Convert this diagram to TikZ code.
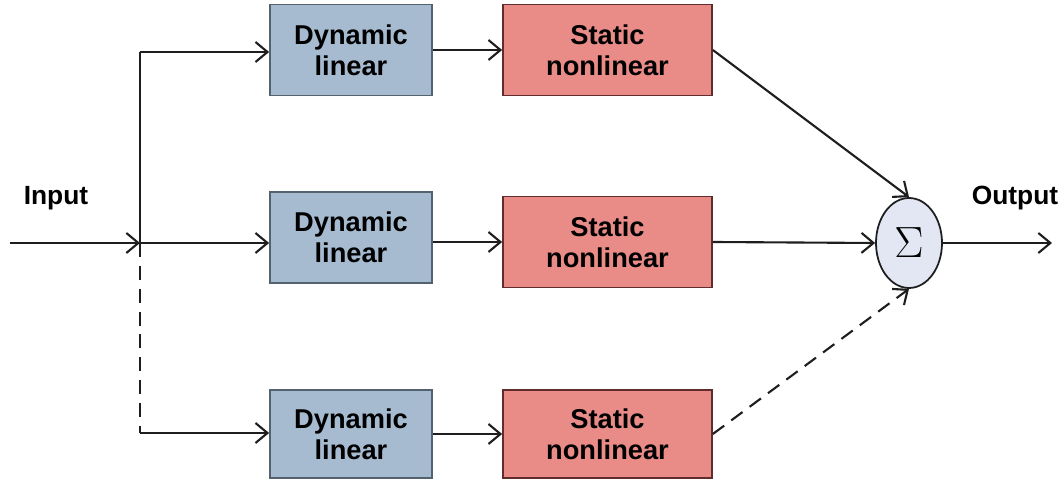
\documentclass[tikz,border=0pt]{standalone}
\usepackage{fontspec}
\setmainfont{Liberation Sans}
\usetikzlibrary{arrows.meta,positioning,shapes.geometric,calc}
\definecolor{dynblue}{RGB}{166,187,208}
\definecolor{dynedge}{RGB}{84,98,112}
\definecolor{statred}{RGB}{233,140,136}
\definecolor{statedge}{RGB}{96,44,44}
\definecolor{sumfill}{RGB}{226,231,243}
\definecolor{linegray}{RGB}{30,30,30}

\begin{document}
\begin{tikzpicture}[
    >={Straight Barb[length=2.4mm,width=4mm]},
    line width=1.2pt,
    dynbox/.style={draw=dynedge, fill=dynblue, line width=1pt, minimum width=3.24cm, minimum height=1.82cm, align=center, font=\fontsize{15.5}{17.5}\selectfont\bfseries},
    statbox/.style={draw=statedge, fill=statred, line width=1pt, minimum width=4.18cm, minimum height=1.82cm, align=center, font=\fontsize{15.5}{17.5}\selectfont\bfseries},
    sumnode/.style={draw=linegray, fill=sumfill, ellipse, line width=1pt, minimum width=1.32cm, minimum height=1.8cm, inner sep=0pt, font=\fontsize{26}{30}\selectfont},
    iolabel/.style={font=\fontsize{15}{18}\selectfont\bfseries}
  ]
  \useasboundingbox (0,0) rectangle (21.24,9.62);

  % Three branches: dynamic linear -> static nonlinear
  \node[dynbox] (dyn1) at (7.02,8.62) {Dynamic\\linear};
  \node[statbox] (stat1) at (12.15,8.62) {Static\\nonlinear};

  \node[dynbox] (dyn2) at (7.02,4.87) {Dynamic\\linear};
  \node[statbox] (stat2) at (12.15,4.78) {Static\\nonlinear};

  \node[dynbox, minimum height=1.76cm] (dyn3) at (7.02,0.94) {Dynamic\\linear};
  \node[statbox, minimum height=1.76cm] (stat3) at (12.15,0.94) {Static\\nonlinear};

  % Summation
  \node[sumnode] (sum) at (18.18,4.76) {$\Sigma$};

  % Input and output
  \coordinate (in) at (0.2,4.76);
  \coordinate (jn) at (2.8,4.76);
  \coordinate (jtop) at (2.8,8.58);
  \coordinate (jbot) at (2.8,0.96);
  \coordinate (out) at (21.04,4.76);
  \node[iolabel] (inlabel) at (1.12,5.66) {Input};
  \node[iolabel] (outlabel) at (20.3,5.66) {Output};

  \draw[->, linegray] (in) -- (jn);
  \draw[linegray] (jn) -- (jtop);
  \draw[linegray, dashed, dash pattern=on 8pt off 5pt] (jn) -- (jbot);
  \draw[->, linegray] (jtop) -- (jtop -| dyn1.west);
  \draw[->, linegray] (jn) -- (jn -| dyn2.west);
  \draw[->, linegray] (jbot) -- (jbot -| dyn3.west);

  \draw[->, linegray] (dyn1.east) -- (dyn1.east -| stat1.west);
  \draw[->, linegray] (dyn2.east |- stat2.west) -- (stat2.west);
  \draw[->, linegray] (dyn3.east) -- (dyn3.east -| stat3.west);

  \draw[->, linegray] (stat1.east) -- (sum.north);
  \draw[->, linegray] (stat2.east) -- (sum.west);
  \draw[->, linegray, dashed, dash pattern=on 8pt off 5pt] (stat3.east) -- (sum.south);
  \draw[->, linegray] (sum.east) -- (out);
\end{tikzpicture}
\end{document}
